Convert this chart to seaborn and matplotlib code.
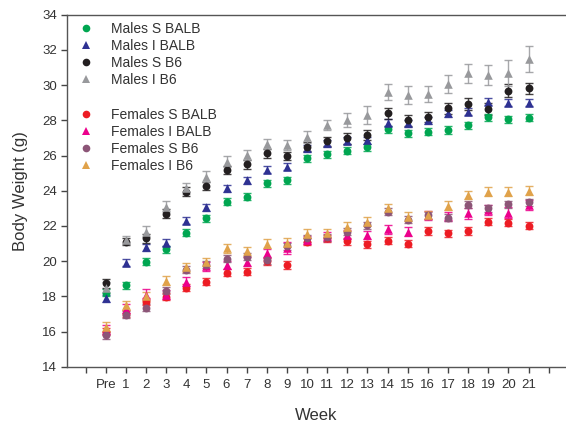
import numpy as np
import pandas as pd
import matplotlib
matplotlib.use("Agg")
import matplotlib.pyplot as plt
from matplotlib.lines import Line2D
import seaborn as sns

# Week labels (0 = pre-treatment)
week_labels = ["Pre"] + [str(i) for i in range(1, 22)]
weeks = np.arange(len(week_labels))

# Mean body weight (g) per group
males_s_balb = [18.2, 18.64, 19.97, 20.67, 21.6, 22.43, 23.38, 23.66, 24.42, 24.6, 25.84,
                26.08, 26.27, 26.46, 27.49, 27.26, 27.35, 27.45, 27.73, 28.17, 28.06, 28.15]
males_i_balb = [17.89, 19.9, 20.78, 21.05, 22.3, 23.06, 24.13, 24.6, 25.18, 25.36, 26.4,
                26.7, 26.85, 26.88, 27.87, 27.83, 28.0, 28.4, 28.49, 29.06, 29.0, 29.0]
males_s_b6 = [18.74, 21.1, 21.29, 22.7, 23.95, 24.27, 25.18, 25.5, 26.12, 25.97, 26.5,
              26.8, 26.98, 27.17, 28.4, 28.0, 28.2, 28.68, 28.93, 28.64, 29.69, 29.82]
males_i_b6 = [18.5, 21.2, 21.67, 23.1, 24.14, 24.8, 25.65, 26.03, 26.65, 26.6, 27.07,
              27.73, 28.0, 28.3, 29.62, 29.44, 29.5, 30.06, 30.67, 30.58, 30.7, 31.47]
females_s_balb = [16.0, 17.0, 17.7, 17.98, 18.5, 18.83, 19.34, 19.4, 20.0, 19.78, 21.1,
                  21.3, 21.14, 20.97, 21.16, 21.0, 21.71, 21.58, 21.71, 22.24, 22.18, 22.0]
females_i_balb = [16.1, 17.3, 18.1, 18.1, 18.83, 19.7, 19.78, 19.97, 20.44, 20.75, 21.2,
                  21.4, 21.5, 21.48, 21.8, 21.67, 22.6, 22.55, 22.71, 22.9, 22.75, 23.19]
females_s_b6 = [15.8, 16.94, 17.35, 18.33, 19.5, 19.8, 20.13, 20.25, 20.06, 20.85, 21.3,
                21.35, 21.67, 22.05, 22.8, 22.34, 22.6, 22.47, 23.19, 23.0, 23.22, 23.34]
females_i_b6 = [16.27, 17.5, 18.0, 18.89, 19.65, 19.95, 20.73, 20.55, 21.0, 21.05, 21.55,
                21.58, 21.95, 22.24, 23.0, 22.52, 22.62, 23.15, 23.76, 23.94, 23.94, 24.0]

# Standard errors
sem_males_s_balb = [0.2] * 22
sem_males_i_balb = [0.2] * 22
sem_males_s_b6 = [0.25, 0.2, 0.25, 0.25, 0.25, 0.25, 0.25, 0.25, 0.25, 0.25, 0.25,
                  0.25, 0.3, 0.3, 0.3, 0.3, 0.3, 0.3, 0.35, 0.35, 0.35, 0.3]
sem_males_i_b6 = [0.3, 0.25, 0.3, 0.3, 0.3, 0.3, 0.3, 0.3, 0.3, 0.3, 0.35,
                  0.3, 0.4, 0.5, 0.45, 0.5, 0.45, 0.5, 0.55, 0.55, 0.75, 0.75]
sem_females_s_balb = [0.2] * 22
sem_females_i_balb = [0.25, 0.25, 0.3, 0.25, 0.25, 0.25, 0.25, 0.25, 0.25, 0.35, 0.25,
                      0.25, 0.25, 0.25, 0.25, 0.25, 0.25, 0.25, 0.3, 0.3, 0.3, 0.3]
sem_females_s_b6 = [0.2] * 22
sem_females_i_b6 = [0.25] * 22

group_names = ["Males S BALB", "Males I BALB", "Males S B6", "Males I B6",
               "Females S BALB", "Females I BALB", "Females S B6", "Females I B6"]
group_means = [males_s_balb, males_i_balb, males_s_b6, males_i_b6,
               females_s_balb, females_i_balb, females_s_b6, females_i_b6]
group_sems = [sem_males_s_balb, sem_males_i_balb, sem_males_s_b6, sem_males_i_b6,
              sem_females_s_balb, sem_females_i_balb, sem_females_s_b6, sem_females_i_b6]
group_colors = ["#00a651", "#2e3192", "#231f20", "#98999c",
                "#ed1c24", "#ec008c", "#8c5577", "#e0a24a"]
group_markers = ["o", "^", "o", "^", "o", "^", "o", "^"]

frames = []
for name, m, s in zip(group_names, group_means, group_sems):
    frames.append(pd.DataFrame({"week": weeks, "weight": m, "sem": s, "group": name}))
df = pd.concat(frames, ignore_index=True)

sns.set_style("ticks")
plt.rcParams["font.family"] = ["Liberation Sans", "DejaVu Sans"]
text_color = "#333333"

fig = plt.figure(figsize=(5.66, 4.24), dpi=100)
ax = fig.add_axes([0.1178, 0.1351, 0.8822, 0.8302])

for name, col, mk in zip(group_names, group_colors, group_markers):
    sub = df[df["group"] == name]
    ax.errorbar(sub["week"], sub["weight"], yerr=sub["sem"], fmt="none",
                ecolor=col, elinewidth=1.0, capsize=3, capthick=1.0, alpha=0.85, zorder=2)
    sns.scatterplot(data=sub, x="week", y="weight", color=col, marker=mk,
                    s=38 if mk == "^" else 32, linewidth=0, ax=ax, zorder=3,
                    legend=False)

ax.set_xlim(-1.94, 22.86)
ax.set_ylim(14, 34)
ax.set_xticks(np.arange(-1, 23))
ax.set_xticklabels([""] + week_labels + [""])
ax.set_yticks(np.arange(14, 35, 2))
ax.tick_params(axis="both", direction="out", length=4, width=1, colors="#444444",
               labelcolor=text_color, labelsize=9.5)
ax.tick_params(axis="x", pad=5)
ax.tick_params(axis="y", pad=3)

for side in ["left", "bottom", "top"]:
    ax.spines[side].set_color("#555555")
    ax.spines[side].set_linewidth(1.0)
ax.spines["right"].set_visible(False)

ax.set_xlabel("Week", fontsize=12, color=text_color, labelpad=12)
ax.set_ylabel("Body Weight (g)", fontsize=12, color=text_color, labelpad=10)

handles = []
labels = []
for i, (name, col, mk) in enumerate(zip(group_names, group_colors, group_markers)):
    if i == 4:
        # spacer row between the male and female groups
        handles.append(Line2D([], [], linestyle="none", marker=None))
        labels.append(" ")
    handles.append(Line2D([], [], linestyle="none", marker=mk, color=col,
                          markersize=6 if mk == "^" else 5.5, markeredgewidth=0))
    labels.append(name)

leg = ax.legend(handles, labels, loc="upper left", bbox_to_anchor=(0.006, 1.008),
                frameon=False, fontsize=10, handlelength=1.0, handletextpad=1.25,
                labelspacing=0.23, borderpad=0.2)
for t in leg.get_texts():
    t.set_color(text_color)

fig.savefig("out.png", dpi=100)
